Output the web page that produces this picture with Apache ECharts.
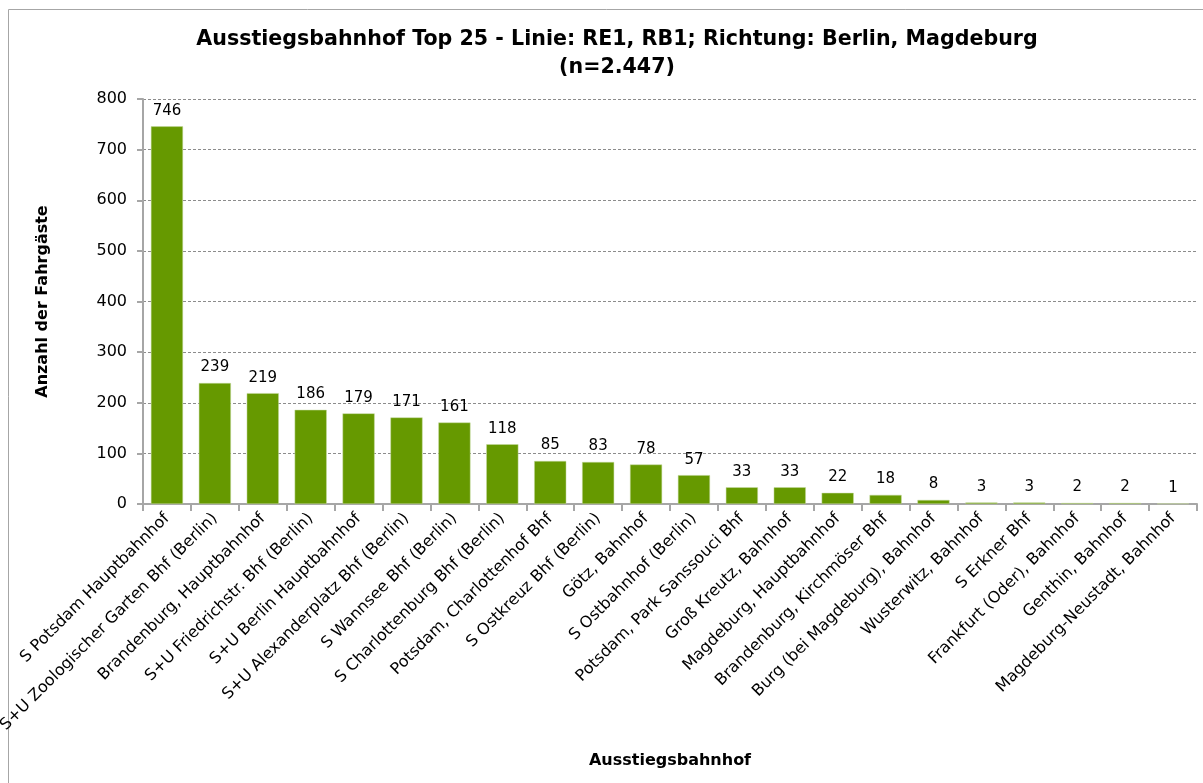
<!DOCTYPE html>
<html>
<head>
<meta charset="utf-8">
<script src="https://cdn.jsdelivr.net/npm/echarts@6/dist/echarts.min.js"></script>
<style>
  html, body { margin: 0; padding: 0; background: #fff; }
  #chart { width: 1203px; height: 783px; }
</style>
</head>
<body>
<div id="chart"></div>
<script>
// Ausstiegsbahnhöfe (Kategorien)
const stations = [
  'S Potsdam Hauptbahnhof',
  'S+U Zoologischer Garten Bhf (Berlin)',
  'Brandenburg, Hauptbahnhof',
  'S+U Friedrichstr. Bhf (Berlin)',
  'S+U Berlin Hauptbahnhof',
  'S+U Alexanderplatz Bhf (Berlin)',
  'S Wannsee Bhf (Berlin)',
  'S Charlottenburg Bhf (Berlin)',
  'Potsdam, Charlottenhof Bhf',
  'S Ostkreuz Bhf (Berlin)',
  'Götz, Bahnhof',
  'S Ostbahnhof (Berlin)',
  'Potsdam, Park Sanssouci Bhf',
  'Groß Kreutz, Bahnhof',
  'Magdeburg, Hauptbahnhof',
  'Brandenburg, Kirchmöser Bhf',
  'Burg (bei Magdeburg), Bahnhof',
  'Wusterwitz, Bahnhof',
  'S Erkner Bhf',
  'Frankfurt (Oder), Bahnhof',
  'Genthin, Bahnhof',
  'Magdeburg-Neustadt, Bahnhof'
];
// Anzahl der Fahrgäste
const passengers = [746, 239, 219, 186, 179, 171, 161, 118, 85, 83, 78, 57, 33, 33, 22, 18, 8, 3, 3, 2, 2, 1];

const labelFont = '"DejaVu Sans", sans-serif';

const chart = echarts.init(document.getElementById('chart'));
chart.setOption({
  animation: false,
  title: {
    text: 'Ausstiegsbahnhof Top 25 - Linie: RE1, RB1; Richtung: Berlin, Magdeburg\n(n=2.447)',
    left: 612,
    top: 21,
    textAlign: 'center',
    textStyle: {
      fontFamily: labelFont,
      fontWeight: 'bold',
      fontSize: 20.6,
      lineHeight: 28,
      color: '#000'
    }
  },
  graphic: [{
    type: 'rect',
    shape: { x: 8.5, y: 9.5, width: 1200, height: 780 },
    style: { fill: 'none', stroke: '#a6a6a6', lineWidth: 1 },
    silent: true
  }],
  grid: { left: 143, right: 6, top: 99, bottom: 279, containLabel: false, outerBoundsMode: 'none' },
  xAxis: {
    type: 'category',
    data: stations,
    name: 'Ausstiegsbahnhof',
    nameLocation: 'middle',
    nameGap: 249,
    nameTextStyle: { fontFamily: labelFont, fontWeight: 'bold', fontSize: 16, color: '#000' },
    axisLine: { lineStyle: { color: '#a6a6a6', width: 2 } },
    axisTick: { show: true, alignWithLabel: false, length: 7, lineStyle: { color: '#a6a6a6', width: 2 } },
    axisLabel: {
      interval: 0,
      rotate: 45,
      margin: 12,
      fontFamily: labelFont,
      fontSize: 16,
      color: '#000'
    }
  },
  yAxis: {
    type: 'value',
    min: 0,
    max: 800,
    interval: 100,
    name: 'Anzahl der Fahrgäste',
    nameLocation: 'middle',
    nameGap: 92,
    nameTextStyle: { fontFamily: labelFont, fontWeight: 'bold', fontSize: 16, color: '#000' },
    axisLine: { show: true, lineStyle: { color: '#a6a6a6', width: 2 } },
    axisTick: { show: true, length: 6, lineStyle: { color: '#a6a6a6', width: 2 } },
    axisLabel: { fontFamily: labelFont, fontSize: 16, color: '#000', margin: 16 },
    splitLine: { show: true, lineStyle: { color: '#8c8c8c', type: [3, 2], width: 1 } }
  },
  series: [{
    type: 'bar',
    data: passengers,
    barCategoryGap: '33%',
    itemStyle: { color: '#669900', borderColor: '#c6dba0', borderWidth: 0.5 },
    label: {
      show: true,
      position: 'top',
      distance: 8,
      fontFamily: labelFont,
      fontSize: 15,
      color: '#000'
    }
  }]
});
</script>
</body>
</html>
